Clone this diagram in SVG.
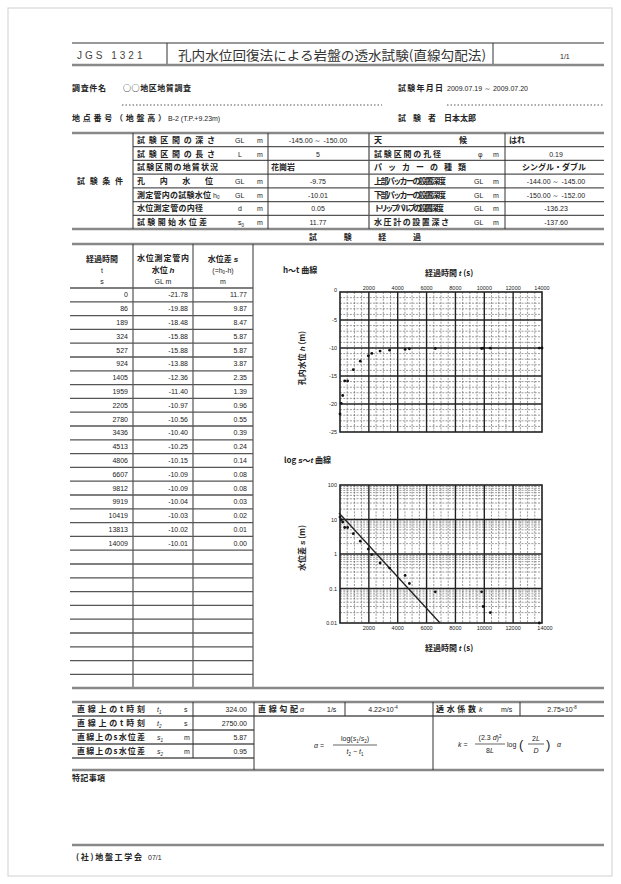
<svg xmlns="http://www.w3.org/2000/svg" width="621" height="884" viewBox="0 0 621 884">
<style>
.bg{fill:#fff}
.ln{stroke:#555;stroke-width:1.3;fill:none}
.dk{stroke:#333;stroke-width:1;fill:none}
.thk{stroke:#888;stroke-width:2.4;fill:none}
.jp{font-family:"Noto Sans CJK JP","Noto Sans",sans-serif;font-weight:bold;fill:#222;font-size:8px}
.jn{font-family:"Noto Sans CJK JP","Noto Sans",sans-serif;fill:#333}
.num{font-family:"Liberation Sans",Arial,sans-serif;fill:#222;font-size:7px}
.ax{font-family:"Liberation Sans",Arial,sans-serif;fill:#222;font-size:5.5px}
.e{text-anchor:end}
.m{text-anchor:middle}
.maj{stroke:#222;stroke-width:1.4;fill:none}
.min{stroke:#555;stroke-width:0.6;stroke-dasharray:2 1.3;fill:none}
.pt{fill:#111}
</style>
<defs><circle id="p" r="1.4" class="pt"/></defs>
<rect class="bg" width="621" height="884"/>
<rect x="8" y="8" width="604" height="868" fill="none" stroke="#d0d0d0" stroke-width="1"/>

<g id="header">
<path class="dk" d="M72 43H604M167 43V65M493 43V65"/>
<path class="thk" d="M72 65H604"/>
<text x="77" y="59" font-family="Liberation Sans,Arial,sans-serif" font-size="10" fill="#444" letter-spacing="3">JGS  1321</text>
<text x="178" y="60" class="jn" font-size="13" textLength="308" lengthAdjust="spacingAndGlyphs">孔内水位回復法による岩盤の透水試験(直線勾配法)</text>
<text x="560" y="59" class="num" font-size="7">1/1</text>
</g>

<g id="info">
<text x="72" y="91" class="jp" textLength="34">調査件名</text>
<text x="123" y="91" class="jp" font-weight="normal" font-size="7" textLength="68">○○地区地質調査</text>
<path d="M122 105H382M447 105H604" stroke="#555" stroke-width="1" stroke-dasharray="1.5 2"/>
<text x="398" y="91" class="jp" textLength="45">試験年月日</text>
<text x="447" y="91" class="num" font-size="6.5">2009.07.19 ～ 2009.07.20</text>
<text x="72" y="121" class="jp" textLength="94">地点番号（地盤高）</text>
<text x="168" y="121" class="num" font-size="6.5">B-2 (T.P.+9.23m)</text>
<text x="398" y="121" class="jp" textLength="38">試 験 者</text>
<text x="444" y="121" class="jp" font-weight="normal" font-size="7">日本太郎</text>
</g>

<g id="conditions">
<path class="thk" d="M72 133H604M72 229H604"/>
<path class="ln" d="M133 146.7H604M133 160.4H604M133 174.1H604M133 187.9H604M133 201.6H604M133 215.3H604"/>
<path class="dk" d="M133 133V229M268 133V229M505 133V229"/>
<path class="ln" d="M369 133V229"/>
<text x="77" y="184" class="jp" font-size="8.5" textLength="46">試験条件</text>
<text x="137" y="143" class="jp" textLength="78">試験区間の深さ</text>
<text x="137" y="156.5" class="jp" textLength="78">試験区間の長さ</text>
<text x="137" y="170.2" class="jp" textLength="81">試験区間の地質状況</text>
<text x="137" y="184" class="jp" textLength="76">孔内水位</text>
<text x="137" y="197.6" class="jp" textLength="74">測定管内の試験水位</text>
<text x="137" y="211.3" class="jp" textLength="66">水位測定管の内径</text>
<text x="137" y="225" class="jp" textLength="70">試験開始水位差</text>
<g class="num" font-size="6.5">
<text x="235" y="143">GL</text><text x="257" y="143">m</text>
<text x="238" y="156.5">L</text><text x="257" y="156.5">m</text>
<text x="235" y="184">GL</text><text x="257" y="184">m</text>
<text x="213" y="197.6">h<tspan font-size="4.5" dy="1.5">0</tspan></text><text x="235" y="197.6">GL</text><text x="257" y="197.6">m</text>
<text x="238" y="211.3">d</text><text x="257" y="211.3">m</text>
<text x="238" y="225">s<tspan font-size="4.5" dy="1.5">0</tspan></text><text x="257" y="225">m</text>
</g>
<g class="num m">
<text x="318" y="143">-145.00 ～ -150.00</text>
<text x="318" y="156.5">5</text>
<text x="318" y="184">-9.75</text>
<text x="318" y="197.6">-10.01</text>
<text x="318" y="211.3">0.05</text>
<text x="318" y="225">11.77</text>
</g>
<text x="271" y="170.2" class="jp" font-weight="normal" font-size="6">花崗岩</text>
<text x="374" y="143" class="jp">天</text>
<text x="459" y="143" class="jp">候</text>
<text x="374" y="156.5" class="jp" textLength="67">試験区間の孔径</text>
<text x="374" y="170.2" class="jp" textLength="92">パッカーの種類</text>
<text x="374" y="184" class="jp" textLength="72">上部パッカーの設置深度</text>
<text x="374" y="197.6" class="jp" textLength="72">下部パッカーの設置深度</text>
<text x="374" y="211.3" class="jp" textLength="70">トリップバルブの設置深度</text>
<text x="374" y="225" class="jp" textLength="75">水圧計の設置深さ</text>
<g class="num" font-size="6.5">
<text x="478" y="156.5">φ</text><text x="493" y="156.5">m</text>
<text x="474" y="184">GL</text><text x="493" y="184">m</text>
<text x="474" y="197.6">GL</text><text x="493" y="197.6">m</text>
<text x="474" y="211.3">GL</text><text x="493" y="211.3">m</text>
<text x="474" y="225">GL</text><text x="493" y="225">m</text>
</g>
<text x="509" y="143" class="jp" font-weight="normal" font-size="7">はれ</text>
<g class="num m">
<text x="556" y="156.5">0.19</text>
<text x="556" y="184">-144.00 ～ -145.00</text>
<text x="556" y="197.6">-150.00 ～ -152.00</text>
<text x="556" y="211.3">-136.23</text>
<text x="556" y="225">-137.60</text>
</g>
<text x="554" y="170.2" class="jp m" font-weight="normal" font-size="7">シングル・ダブル</text>
</g>

<g id="progress-title">
<path class="thk" d="M72 244H604"/>
<text x="309" y="240" class="jp" font-size="8.5" textLength="112" lengthAdjust="spacing">試験経過</text>
</g>

<g id="data-table">
<path class="dk" d="M133 244V688M193 244V688M253 244V688"/>
<path class="ln" d="M70 288H253"/>
<path class="ln" d="M70 301.8H253M70 315.6H253M70 329.4H253M70 343.2H253M70 357H253M70 370.8H253M70 384.6H253M70 398.4H253M70 412.2H253M70 426H253M70 439.8H253M70 453.6H253M70 467.4H253M70 481.2H253M70 495H253M70 508.8H253M70 522.6H253M70 536.4H253M70 550.2H253M70 564H253M70 577.8H253M70 591.6H253M70 605.4H253M70 619.2H253M70 633H253M70 646.8H253M70 660.6H253M70 674.4H253"/>
<path class="thk" d="M72 688H604"/>
<text x="102" y="262" class="jp m" font-size="7" textLength="32">経過時間</text>
<text x="102" y="273" class="num m">t</text>
<text x="102" y="284" class="num m">s</text>
<text x="163" y="261" class="jp m" font-size="6.5" font-weight="normal" textLength="52">水位測定管内</text>
<text x="163" y="273" class="jp m" font-size="6.5" font-weight="normal">水位 <tspan font-family="Liberation Sans,Arial,sans-serif" font-style="italic">h</tspan></text>
<text x="163" y="284" class="num m">GL m</text>
<text x="223" y="262" class="jp m" font-size="6.5" font-weight="normal">水位差 <tspan font-family="Liberation Sans,Arial,sans-serif" font-style="italic">s</tspan></text>
<text x="223" y="273" class="num m" font-size="6.5">(=h<tspan font-size="4.5" dy="1.2">0</tspan><tspan dy="-1.2">-h)</tspan></text>
<text x="223" y="284" class="num m">m</text>
<g class="num e">
<text x="128" y="297.4">0</text><text x="188" y="297.4">-21.78</text><text x="247" y="297.4">11.77</text>
<text x="128" y="311.2">86</text><text x="188" y="311.2">-19.88</text><text x="247" y="311.2">9.87</text>
<text x="128" y="325">189</text><text x="188" y="325">-18.48</text><text x="247" y="325">8.47</text>
<text x="128" y="338.8">324</text><text x="188" y="338.8">-15.88</text><text x="247" y="338.8">5.87</text>
<text x="128" y="352.6">527</text><text x="188" y="352.6">-15.88</text><text x="247" y="352.6">5.87</text>
<text x="128" y="366.4">924</text><text x="188" y="366.4">-13.88</text><text x="247" y="366.4">3.87</text>
<text x="128" y="380.2">1405</text><text x="188" y="380.2">-12.36</text><text x="247" y="380.2">2.35</text>
<text x="128" y="394">1959</text><text x="188" y="394">-11.40</text><text x="247" y="394">1.39</text>
<text x="128" y="407.8">2205</text><text x="188" y="407.8">-10.97</text><text x="247" y="407.8">0.96</text>
<text x="128" y="421.6">2780</text><text x="188" y="421.6">-10.56</text><text x="247" y="421.6">0.55</text>
<text x="128" y="435.4">3436</text><text x="188" y="435.4">-10.40</text><text x="247" y="435.4">0.39</text>
<text x="128" y="449.2">4513</text><text x="188" y="449.2">-10.25</text><text x="247" y="449.2">0.24</text>
<text x="128" y="463">4806</text><text x="188" y="463">-10.15</text><text x="247" y="463">0.14</text>
<text x="128" y="476.8">6607</text><text x="188" y="476.8">-10.09</text><text x="247" y="476.8">0.08</text>
<text x="128" y="490.6">9812</text><text x="188" y="490.6">-10.09</text><text x="247" y="490.6">0.08</text>
<text x="128" y="504.4">9919</text><text x="188" y="504.4">-10.04</text><text x="247" y="504.4">0.03</text>
<text x="128" y="518.2">10419</text><text x="188" y="518.2">-10.03</text><text x="247" y="518.2">0.02</text>
<text x="128" y="532">13813</text><text x="188" y="532">-10.02</text><text x="247" y="532">0.01</text>
<text x="128" y="545.8">14009</text><text x="188" y="545.8">-10.01</text><text x="247" y="545.8">0.00</text>
</g>
</g>

<g id="chart-ht">
<text x="283" y="273" class="jp" font-size="6.5" font-weight="normal">h～t 曲線</text>
<text x="425" y="276" class="jp" font-size="6.5" font-weight="normal">経過時間 <tspan font-family="Liberation Sans,Arial,sans-serif" font-style="italic">t</tspan> (s)</text>
<text transform="translate(305 358) rotate(-90)" class="jp m" font-size="7" font-weight="normal">孔内水位 <tspan font-family="Liberation Sans,Arial,sans-serif" font-style="italic">h</tspan> (m)</text>
<path class="min" d="M347.21 292V432M354.43 292V432M361.64 292V432M376.07 292V432M383.29 292V432M390.5 292V432M404.93 292V432M412.14 292V432M419.36 292V432M433.79 292V432M441 292V432M448.21 292V432M462.64 292V432M469.86 292V432M477.07 292V432M491.5 292V432M498.71 292V432M505.93 292V432M520.36 292V432M527.57 292V432M534.79 292V432"/>
<path class="min" d="M340 297.6H542M340 303.2H542M340 308.8H542M340 314.4H542M340 325.6H542M340 331.2H542M340 336.8H542M340 342.4H542M340 353.6H542M340 359.2H542M340 364.8H542M340 370.4H542M340 381.6H542M340 387.2H542M340 392.8H542M340 398.4H542M340 409.6H542M340 415.2H542M340 420.8H542M340 426.4H542"/>
<path class="maj" d="M368.86 292V432M397.71 292V432M426.57 292V432M455.43 292V432M484.29 292V432M513.14 292V432M340 320H542M340 348H542M340 376H542M340 404H542"/>
<rect x="340" y="292" width="202" height="140" fill="none" stroke="#222" stroke-width="1.6"/>
<g class="ax m">
<text x="368.86" y="290">2000</text><text x="397.71" y="290">4000</text><text x="426.57" y="290">6000</text><text x="455.43" y="290">8000</text><text x="484.29" y="290">10000</text><text x="513.14" y="290">12000</text><text x="542" y="290">14000</text>
</g>
<g class="ax e">
<text x="337" y="292">0</text><text x="337" y="322">-5</text><text x="337" y="350">-10</text><text x="337" y="378">-15</text><text x="337" y="406">-20</text><text x="337" y="434">-25</text>
</g>
<g>
<use href="#p" x="340" y="414"/><use href="#p" x="341.2" y="403.3"/><use href="#p" x="342.7" y="395.5"/><use href="#p" x="344.7" y="380.9"/><use href="#p" x="347.6" y="380.9"/><use href="#p" x="353.3" y="369.7"/><use href="#p" x="360.3" y="361.2"/><use href="#p" x="368.3" y="355.8"/><use href="#p" x="371.8" y="353.4"/><use href="#p" x="380.1" y="351.1"/><use href="#p" x="389.6" y="350.2"/><use href="#p" x="405.1" y="349.4"/><use href="#p" x="409.4" y="348.8"/><use href="#p" x="435.3" y="348.5"/><use href="#p" x="481.6" y="348.5"/><use href="#p" x="483.1" y="348.2"/><use href="#p" x="490.3" y="348.2"/><use href="#p" x="539.3" y="348.1"/><use href="#p" x="542" y="348"/>
</g>
</g>

<g id="chart-log">
<text x="284" y="463" class="jp" font-size="6.5" font-weight="normal">log <tspan font-family="Liberation Sans,Arial,sans-serif" font-style="italic">s</tspan>～<tspan font-family="Liberation Sans,Arial,sans-serif" font-style="italic">t</tspan> 曲線</text>
<text x="425" y="651" class="jp" font-size="6.5" font-weight="normal">経過時間 <tspan font-family="Liberation Sans,Arial,sans-serif" font-style="italic">t</tspan> (s)</text>
<text transform="translate(305 548) rotate(-90)" class="jp m" font-size="7" font-weight="normal">水位差 <tspan font-family="Liberation Sans,Arial,sans-serif" font-style="italic">s</tspan> (m)</text>
<path class="min" d="M347.21 485V623M354.43 485V623M361.64 485V623M376.07 485V623M383.29 485V623M390.5 485V623M404.93 485V623M412.14 485V623M419.36 485V623M433.79 485V623M441 485V623M448.21 485V623M462.64 485V623M469.86 485V623M477.07 485V623M491.5 485V623M498.71 485V623M505.93 485V623M520.36 485V623M527.57 485V623M534.79 485V623"/>
<path class="min" d="M340 486.58H542M340 488.34H542M340 490.35H542M340 492.65H542M340 495.39H542M340 498.73H542M340 503.04H542M340 509.11H542M340 521.08H542M340 522.84H542M340 524.85H542M340 527.15H542M340 529.89H542M340 533.23H542M340 537.54H542M340 543.61H542M340 555.58H542M340 557.34H542M340 559.35H542M340 561.65H542M340 564.39H542M340 567.73H542M340 572.04H542M340 578.11H542M340 590.08H542M340 591.84H542M340 593.85H542M340 596.15H542M340 598.89H542M340 602.23H542M340 606.54H542M340 612.61H542"/>
<path class="maj" d="M368.86 485V623M397.71 485V623M426.57 485V623M455.43 485V623M484.29 485V623M513.14 485V623M340 519.5H542M340 554H542M340 588.5H542"/>
<rect x="340" y="485" width="202" height="138" fill="none" stroke="#222" stroke-width="1.6"/>
<g class="ax e">
<text x="337" y="487">100</text><text x="337" y="521.5">10</text><text x="337" y="556">1</text><text x="337" y="590.5">0.1</text><text x="337" y="625">0.01</text>
</g>
<g class="ax m">
<text x="368.86" y="630">2000</text><text x="397.71" y="630">4000</text><text x="426.57" y="630">6000</text><text x="455.43" y="630">8000</text><text x="484.29" y="630">10000</text><text x="513.14" y="630">12000</text><text x="545" y="630">14000</text>
</g>
<line x1="339" y1="513" x2="440" y2="623" stroke="#222" stroke-width="1.3"/>
<g>
<use href="#p" x="340" y="517.1"/><use href="#p" x="341.2" y="519.7"/><use href="#p" x="342.7" y="522"/><use href="#p" x="344.7" y="527.5"/><use href="#p" x="347.6" y="527.5"/><use href="#p" x="353.3" y="533.7"/><use href="#p" x="360.3" y="541.2"/><use href="#p" x="368.3" y="549.1"/><use href="#p" x="371.8" y="554.6"/><use href="#p" x="380.1" y="563"/><use href="#p" x="389.6" y="568.1"/><use href="#p" x="405.1" y="575.4"/><use href="#p" x="409.4" y="583.5"/><use href="#p" x="435.3" y="591.8"/><use href="#p" x="481.6" y="591.8"/><use href="#p" x="483.1" y="606.5"/><use href="#p" x="490.3" y="612.6"/><use href="#p" x="539.3" y="623"/>
</g>
</g>

<g id="results">
<path class="thk" d="M72 702H604M72 770H604"/>
<path class="ln" d="M72 716H604M72 730H254M72 744H254M72 758H254"/>
<path class="dk" d="M193 702V758M254 702V770M433 702V770M345 702V716M520 702V716"/>
<text x="77" y="712" class="jp" font-size="7" textLength="68">直線上のt時刻</text>
<text x="77" y="726" class="jp" font-size="7" textLength="68">直線上のt時刻</text>
<text x="77" y="740" class="jp" font-size="7" textLength="68">直線上のs水位差</text>
<text x="77" y="754" class="jp" font-size="7" textLength="68">直線上のs水位差</text>
<g class="num" font-size="6.5">
<text x="157" y="712" font-style="italic">t<tspan font-size="4.5" dy="1.5">1</tspan></text><text x="184" y="712">s</text>
<text x="157" y="726" font-style="italic">t<tspan font-size="4.5" dy="1.5">2</tspan></text><text x="184" y="726">s</text>
<text x="157" y="740" font-style="italic">s<tspan font-size="4.5" dy="1.5">1</tspan></text><text x="184" y="740">m</text>
<text x="157" y="754" font-style="italic">s<tspan font-size="4.5" dy="1.5">2</tspan></text><text x="184" y="754">m</text>
</g>
<g class="num e">
<text x="247" y="712">324.00</text><text x="247" y="726">2750.00</text><text x="247" y="740">5.87</text><text x="247" y="754">0.95</text>
</g>
<text x="258" y="712" class="jp" font-size="7" textLength="40">直線勾配</text>
<text x="300" y="712" class="num" font-style="italic">α</text>
<text x="327" y="712" class="num" font-size="6.5">1/s</text>
<text x="383" y="712" class="num m">4.22×10<tspan font-size="4.5" dy="-3">-4</tspan></text>
<text x="436" y="712" class="jp" font-size="7" textLength="40">透水係数</text>
<text x="479" y="712" class="num" font-style="italic">k</text>
<text x="501" y="712" class="num" font-size="6.5">m/s</text>
<text x="562" y="712" class="num m">2.75×10<tspan font-size="4.5" dy="-3">-8</tspan></text>
<g class="num" font-size="7">
<text x="314" y="748"><tspan font-style="italic">α</tspan> =</text>
<text x="355" y="741" class="m">log(<tspan font-style="italic">s</tspan><tspan font-size="4.5" dy="1.5">1</tspan><tspan dy="-1.5">/</tspan><tspan font-style="italic">s</tspan><tspan font-size="4.5" dy="1.5">2</tspan><tspan dy="-1.5">)</tspan></text>
<line x1="333" y1="745" x2="377" y2="745" stroke="#222" stroke-width="0.7"/>
<text x="355" y="754" class="m"><tspan font-style="italic">t</tspan><tspan font-size="4.5" dy="1.5">2</tspan><tspan dy="-1.5"> − </tspan><tspan font-style="italic">t</tspan><tspan font-size="4.5" dy="1.5">1</tspan></text>
<text x="458" y="747"><tspan font-style="italic">k</tspan> =</text>
<text x="490" y="740" class="m">(2.3 <tspan font-style="italic">d</tspan>)<tspan font-size="4.5" dy="-2.5">2</tspan></text>
<line x1="475" y1="744" x2="505" y2="744" stroke="#222" stroke-width="0.7"/>
<text x="490" y="753" class="m">8<tspan font-style="italic">L</tspan></text>
<text x="507" y="747">log</text>
<text x="519" y="749" font-size="13">(</text>
<text x="536" y="741" class="m">2<tspan font-style="italic">L</tspan></text>
<line x1="528" y1="744" x2="544" y2="744" stroke="#222" stroke-width="0.7"/>
<text x="536" y="753" class="m" font-style="italic">D</text>
<text x="546" y="749" font-size="13">)</text>
<text x="557" y="747" font-style="italic">α</text>
</g>
</g>

<g id="footer">
<text x="72" y="781" class="jp" font-size="7.5" textLength="33">特記事項</text>
<path class="thk" d="M72 845H604"/>
<text x="76" y="860" class="jp" font-size="7" textLength="66">(社)地盤工学会</text>
<text x="148" y="860" class="num" font-size="6.5">07/1</text>
</g>
</svg>
